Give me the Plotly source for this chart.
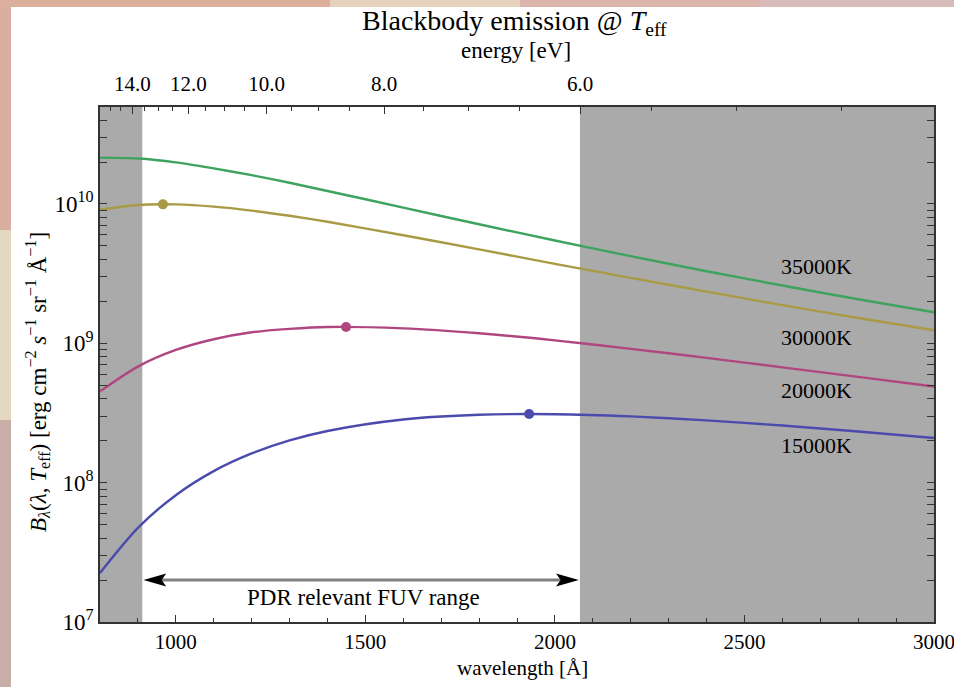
import math
import plotly.graph_objects as go

# ---- data ----
wavelength = [800, 900, 1000, 1100, 1200, 1300, 1400, 1600, 1800, 2000, 2200, 2400, 2600, 2800, 3000]
b_35000 = [2.15e10, 2.12e10, 1.99e10, 1.80e10, 1.61e10, 1.42e10, 1.24e10, 9.42e9, 7.15e9, 5.47e9, 4.22e9, 3.29e9, 2.60e9, 2.07e9, 1.67e9]
b_30000 = [9.08e9, 9.83e9, 9.93e9, 9.57e9, 8.96e9, 8.23e9, 7.45e9, 5.97e9, 4.72e9, 3.72e9, 2.95e9, 2.35e9, 1.88e9, 1.52e9, 1.24e9]
b_20000 = [4.52e8, 6.81e8, 8.96e8, 1.07e9, 1.20e9, 1.27e9, 1.31e9, 1.28e9, 1.18e9, 1.05e9, 9.13e8, 7.86e8, 6.72e8, 5.74e8, 4.90e8]
b_15000 = [2.25e7, 4.74e7, 8.13e7, 1.21e8, 1.62e8, 2.01e8, 2.35e8, 2.84e8, 3.07e8, 3.10e8, 2.99e8, 2.80e8, 2.57e8, 2.33e8, 2.09e8]

peak_wl = [966, 1449, 1932]
peak_val = [9.94e9, 1.31e9, 3.11e8]

series_names = ["35000K", "30000K", "20000K", "15000K"]
series_colors = ["#3ea35e", "#a99a45", "#b0467f", "#4b4bae"]
label_vals = [3.53e9, 1.11e9, 4.62e8, 1.86e8]
label_wl = 2690

band_left = [800, 911.6]
band_right = [2066, 3000]

x_ticks = [1000, 1500, 2000, 2500, 3000]
x_minor = list(range(900, 3001, 100))
energy_labels = [14.0, 12.0, 10.0, 8.0, 6.0]
energy_minor = [15.5 - 0.5 * i for i in range(23)]
y_ticks = [1e7, 1e8, 1e9, 1e10]
y_tick_text = ["10<sup>7</sup>", "10<sup>8</sup>", "10<sup>9</sup>", "10<sup>10</sup>"]

HC = 12398.4  # eV*Angstrom

# ---- figure ----
W, H = 954, 687
ML, MR, MT, MB = 100, 20, 107, 65
PW, PH = W - ML - MR, H - MT - MB


def px_x(p):
    return (p - ML) / PW


def px_y(p):
    return (H - MB - p) / PH


SERIF = "Liberation Serif"
fig = go.Figure()

curves = [b_35000, b_30000, b_20000, b_15000]
for name, col, vals in zip(series_names, series_colors, curves):
    fig.add_trace(go.Scatter(x=wavelength, y=vals, mode="lines", name=name,
                             line=dict(color=col, width=2.4, shape="spline", smoothing=0.8),
                             hoverinfo="skip"))

fig.add_trace(go.Scatter(x=peak_wl, y=peak_val, mode="markers",
                         marker=dict(color=series_colors[1:], size=10), showlegend=False))

# invisible trace for top axis
fig.add_trace(go.Scatter(x=[wavelength[0]], y=[b_35000[0]], xaxis="x2", mode="markers",
                         marker=dict(opacity=0), showlegend=False, hoverinfo="skip"))

shapes = []


def bg_rect(x0, x1, y0, y1, color):
    return dict(type="rect", xref="paper", yref="paper", layer="below",
                x0=px_x(x0), x1=px_x(x1), y0=px_y(y1), y1=px_y(y0),
                fillcolor=color, line=dict(width=0))


# blurred photo-like surround (approximate colour patches)
shapes += [
    bg_rect(-5, 330, -5, 8, "#dcae9c"),
    bg_rect(330, 520, -5, 8, "#e4d2bc"),
    bg_rect(520, 760, -5, 8, "#dcb6ac"),
    bg_rect(760, 960, -5, 8, "#d8bcbc"),
    bg_rect(-5, 11, 8, 230, "#d9ae9e"),
    bg_rect(-5, 11, 230, 420, "#e3d8c2"),
    bg_rect(-5, 11, 420, 692, "#c9aea8"),
]
shapes.append(bg_rect(11, W + 5, 7, H + 5, "white"))
for b in (band_left, band_right):
    shapes.append(dict(type="rect", xref="x", yref="paper", layer="below",
                       x0=b[0], x1=b[1], y0=0, y1=1, fillcolor="#aaaaaa", line=dict(width=0)))

# FUV range arrow
ay = px_y(580)
x_a, x_b = band_left[1] + 3, band_right[0] - 3
head = 60
notch = 12
hh = 6.5 / PH
shapes.append(dict(type="line", xref="x", yref="paper", x0=x_a + head - notch, x1=x_b - head + notch,
                   y0=ay, y1=ay, line=dict(color="#808080", width=3)))
shapes.append(dict(type="path", xref="x", yref="paper", fillcolor="black", line=dict(width=0),
                   path=f"M {x_a},{ay} L {x_a + head},{ay + hh} L {x_a + head - notch},{ay} L {x_a + head},{ay - hh} Z"))
shapes.append(dict(type="path", xref="x", yref="paper", fillcolor="black", line=dict(width=0),
                   path=f"M {x_b},{ay} L {x_b - head},{ay + hh} L {x_b - head + notch},{ay} L {x_b - head},{ay - hh} Z"))


def note(text, x, y, size, **kw):
    d = dict(text=text, xref="paper", yref="paper", x=x, y=y, showarrow=False,
             xanchor="center", yanchor="middle", font=dict(family=SERIF, size=size, color="black"))
    d.update(kw)
    return d


annotations = [
    note("Blackbody emission @ <i>T</i><sub>eff</sub>", px_x(514), px_y(22), 28),
    note("energy [eV]", px_x(516), px_y(51), 23),
    note("wavelength [Å]", px_x(522), px_y(668), 21),
    note("<i>B</i><sub><i>λ</i></sub>(<i>λ</i>, <i>T</i><sub>eff</sub>) [erg cm<sup>−2</sup> <i>s</i><sup>−1</sup> sr<sup>−1</sup> Å<sup>−1</sup>]",
         px_x(37), px_y(382), 23, textangle=-90),
    note("PDR relevant FUV range", px_x(363), px_y(597), 23),
]
for name, v in zip(series_names, label_vals):
    annotations.append(dict(text=name, xref="x", yref="y", x=label_wl, y=math.log10(v), showarrow=False,
                            xanchor="center", yanchor="middle",
                            font=dict(family=SERIF, size=22, color="black")))

y_minor = [k * 10 ** n for n in range(7, 11) for k in range(2, 10) if k * 10 ** n < 5e10]

axis_common = dict(showgrid=False, zeroline=False, showline=True, linecolor="#333333", linewidth=1.5,
                   ticks="inside", tickcolor="#333333", tickwidth=1.3)

fig.update_layout(
    width=W, height=H, margin=dict(l=ML, r=MR, t=MT, b=MB, autoexpand=False),
    paper_bgcolor="#d9b2a2", plot_bgcolor="white", showlegend=False,
    shapes=shapes, annotations=annotations,
    xaxis=dict(range=[800, 3000], tickmode="array", tickvals=x_ticks, ticklen=7,
               tickfont=dict(family=SERIF, size=21, color="black"), ticklabeloverflow="allow",
               minor=dict(tickmode="array", tickvals=x_minor, ticklen=4, ticks="inside",
                          tickcolor="#333333"),
               **axis_common),
    xaxis2=dict(range=[800, 3000], overlaying="x", side="top", anchor="y", tickmode="array",
                tickvals=[HC / e for e in energy_labels], ticktext=[f"{e:.1f}" for e in energy_labels],
                ticklen=7, ticklabelstandoff=6,
                tickfont=dict(family=SERIF, size=21, color="black"),
                minor=dict(tickmode="array", tickvals=[HC / e for e in energy_minor], ticklen=4,
                           ticks="inside", tickcolor="#333333"),
                **axis_common),
    yaxis=dict(type="log", range=[7, 10.696], tickmode="array", tickvals=y_ticks, ticktext=y_tick_text,
               ticklen=7, mirror="allticks",
               tickfont=dict(family=SERIF, size=23, color="black"),
               minor=dict(tickmode="array", tickvals=y_minor, ticklen=4, ticks="inside",
                          tickcolor="#333333"),
               **axis_common),
)

fig.write_html("out.html")
